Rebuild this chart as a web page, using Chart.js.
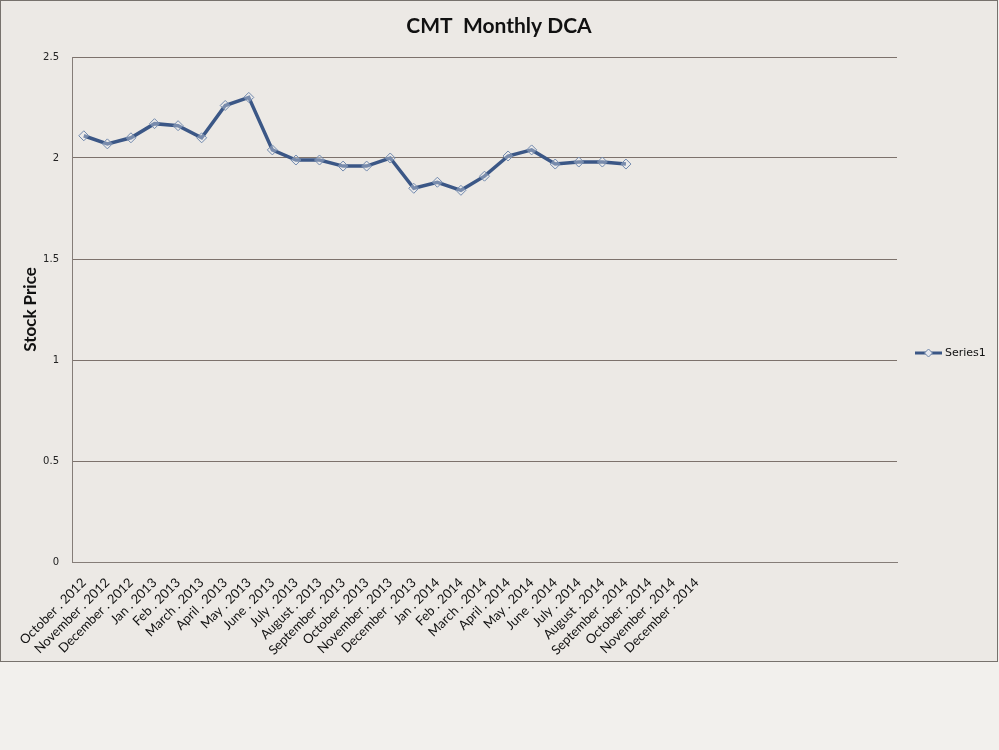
<!DOCTYPE html>
<html>
<head>
<meta charset="utf-8">
<script src="https://cdn.jsdelivr.net/npm/chart.js@4"></script>
<style>
  html, body { margin: 0; padding: 0; background: #F2F0ED; }
  #box { position: absolute; left: 0; top: 0; width: 996px; height: 660px;
         border: 1px solid #77726d; background: #ECE9E5; }
  canvas { display: block; }
</style>
</head>
<body>
<div id="box"><canvas id="c" width="996" height="660"></canvas></div>
<script>
const chartTitle = 'CMT  Monthly DCA';
const yAxisTitle = 'Stock Price';
const seriesName = 'Series1';
const categories = [
  'October . 2012', 'November . 2012', 'December . 2012', 'Jan . 2013', 'Feb . 2013',
  'March . 2013', 'April . 2013', 'May . 2013', 'June . 2013', 'July . 2013',
  'August . 2013', 'September . 2013', 'October . 2013', 'November . 2013', 'December . 2013',
  'Jan . 2014', 'Feb . 2014', 'March . 2014', 'April . 2014', 'May . 2014',
  'June . 2014', 'July . 2014', 'August . 2014', 'September . 2014', 'October . 2014',
  'November . 2014', 'December . 2014', '', '', '', '', '', '', '', ''
];
const prices = [
  2.11, 2.07, 2.10, 2.17, 2.16, 2.10, 2.26, 2.30, 2.04, 1.99,
  1.99, 1.96, 1.96, 2.00, 1.85, 1.88, 1.84, 1.91, 2.01, 2.04,
  1.97, 1.98, 1.98, 1.97
];
const yTicks = [0, 0.5, 1, 1.5, 2, 2.5];

const lineColor = '#3B5786';

const customDecor = {
  id: 'customDecor',
  afterDraw(chart) {
    const ctx = chart.ctx;
    ctx.save();
    // title
    ctx.fillStyle = '#111';
    ctx.font = 'bold 21px Lato';
    ctx.textAlign = 'center';
    ctx.textBaseline = 'middle';
    ctx.fillText(chartTitle, 498, 25);
    // legend
    const ly = 352;
    ctx.strokeStyle = lineColor;
    ctx.lineWidth = 3;
    ctx.beginPath();
    ctx.moveTo(914, ly);
    ctx.lineTo(941, ly);
    ctx.stroke();
    ctx.fillStyle = '#E6E8EE';
    ctx.strokeStyle = '#6C84A8';
    ctx.lineWidth = 1;
    ctx.beginPath();
    ctx.moveTo(927.5, ly - 4); ctx.lineTo(931.5, ly); ctx.lineTo(927.5, ly + 4); ctx.lineTo(923.5, ly); ctx.closePath();
    ctx.fill(); ctx.stroke();
    ctx.fillStyle = '#111';
    ctx.font = '11px "DejaVu Sans"';
    ctx.textAlign = 'left';
    ctx.fillText(seriesName, 944, ly);
    ctx.restore();
  }
};

new Chart(document.getElementById('c'), {
  type: 'line',
  data: {
    labels: categories,
    datasets: [{
      label: seriesName,
      data: prices,
      borderColor: lineColor,
      borderWidth: 3.5,
      tension: 0,
      pointStyle: 'rectRot',
      pointRadius: 5,
      pointBorderWidth: 1,
      pointBorderColor: '#7088AC',
      pointBackgroundColor: 'rgba(236,238,244,0.35)'
    }]
  },
  options: {
    responsive: false,
    animation: false,
    layout: { padding: { left: 0, right: 100, top: 56, bottom: 0 } },
    plugins: { legend: { display: false }, title: { display: false }, tooltip: { enabled: false } },
    scales: {
      x: {
        offset: true,
        grid: { display: false },
        border: { display: true, color: '#857d78', width: 1 },
        ticks: {
          autoSkip: false, maxRotation: 45, minRotation: 45,
          color: '#111', font: { family: 'Lato', size: 13 }, padding: 5
        },
        afterFit(s) { s.height = 99; }
      },
      y: {
        min: 0, max: 2.5,
        afterBuildTicks(s) { s.ticks = yTicks.map(v => ({ value: v })); },
        grid: { color: '#7d726c', lineWidth: 1, drawTicks: false },
        border: { display: true, color: '#857d78', width: 1 },
        ticks: {
          color: '#222', font: { family: 'DejaVu Sans', size: 10 }, padding: 13,
          callback: v => String(v)
        },
        title: {
          display: true, text: yAxisTitle, color: '#111',
          font: { family: 'Lato', size: 17, weight: 'bold' },
          padding: { top: 19, bottom: 0 }
        },
        afterFit(s) { s.width = 71; }
      }
    }
  },
  plugins: [customDecor]
});
</script>
</body>
</html>
